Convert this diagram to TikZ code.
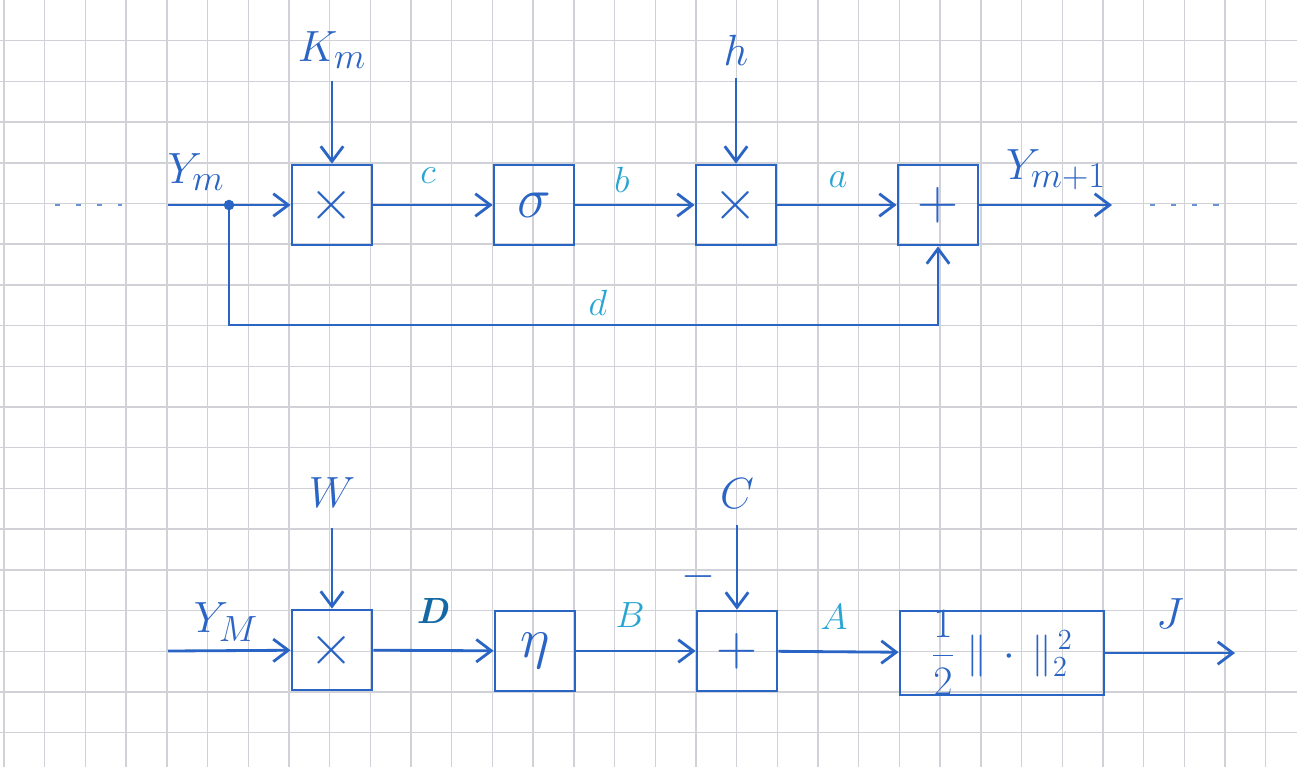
\documentclass[tikz,border=0pt]{standalone}
\usepackage{graphicx}
\usepackage{tikz}
\usetikzlibrary{positioning,arrows.meta}
\definecolor{penblue}{RGB}{42,100,196}
\definecolor{pencyan}{RGB}{40,165,210}
\definecolor{penteal}{RGB}{20,105,165}
\definecolor{gridgray}{RGB}{208,210,215}

\begin{document}
\begin{tikzpicture}[x=0.02cm, y=-0.02cm,
    blk/.style={draw=penblue, line width=1.6pt, minimum width=1.6cm, minimum height=1.6cm,
      inner sep=0pt, text=penblue, font=\Huge},
    sig/.style={draw=penblue, line width=1.6pt, -{Straight Barb[length=3mm,width=4.5mm]}},
    lbl/.style={text=penblue, font=\Huge, inner sep=1pt},
    tag/.style={text=pencyan, font=\huge, inner sep=1pt},
    dots/.style={draw=penblue!70, line width=1.3pt, dash pattern=on 3pt off 9pt}]

  % Paper grid
  \useasboundingbox (0,0) rectangle (1297,767);
  \fill[white] (0,0) rectangle (1297,767);
  \foreach \i in {0,...,31}
    \draw[gridgray, line width=0.8pt] ({4+40.7*\i},0) -- ({4+40.7*\i},767);
  \foreach \j in {1,...,18}
    \draw[gridgray, line width=0.8pt] (0,{40.7*\j}) -- (1297,{40.7*\j});

  % Top row: residual step
  \node[blk] (mul1) at (332,205) {\scalebox{1.3}{$\times$}};
  \node[blk] (act)  at (534,205) {\scalebox{1.3}{$\sigma$}};
  \node[blk] (mul2) at (736,205) {\scalebox{1.3}{$\times$}};
  \node[blk] (add1) at (938,205) {\scalebox{1.3}{$+$}};

  \node[lbl] (km)   at (332,50)  {$K_m$};
  \node[lbl] (hh)   at (736,50)  {$h$};
  \node[lbl] (ym)   at (196,172) {$Y_m$};
  \node[lbl] (ymp)  at (1056,170) {$Y_{m+1}$};
  \node[tag] (tc)   at (428,176) {$c$};
  \node[tag] (tb)   at (622,180) {$b$};
  \node[tag] (ta)   at (838,180) {$a$};
  \node[tag] (td)   at (598,303) {$d$};

  \coordinate (yin)   at (168,205);
  \coordinate (split) at (229,205);
  \coordinate (loop)  at (229,325);
  \coordinate (yout)  at (1112,205);

  \draw[dots] (55,205) -- (122,205);
  \draw[dots] (1150,205) -- (1228,205);

  \draw[sig] (yin) -- (mul1);
  \draw[sig] (mul1) -- (act);
  \draw[sig] (act) -- (mul2);
  \draw[sig] (mul2) -- (add1);
  \draw[sig] (add1) -- (yout);
  \draw[sig, shorten <=6pt] (km) -- (mul1);
  \draw[sig, shorten <=6pt] (hh) -- (mul2);
  \draw[sig] (split) -- (loop) -| (add1.south);
  \fill[penblue] (split) circle (3pt);

  % Bottom row: loss
  \node[blk] (mul3) at (332,650) {\scalebox{1.3}{$\times$}};
  \node[blk] (eta)  at (535,651) {\scalebox{1.3}{$\eta$}};
  \node[blk] (add2) at (737,651) {\scalebox{1.3}{$+$}};
  \node[blk, minimum width=4.08cm, minimum height=1.64cm, font=\huge] (loss) at (1002,653)
        {\scalebox{1.15}{$\displaystyle\frac{1}{2}\;\|\,\cdot\,\|_2^{\,2}$}};

  \node[lbl] (ww)   at (332,493) {$W$};
  \node[lbl] (cc)   at (737,494) {$C$};
  \node[lbl] (minus) at (698,577) {$-$};
  \node[lbl] (yM)   at (226,622) {$Y_M$};
  \node[lbl] (jj)   at (1170,614) {$J$};
  \node[tag, text=penteal] (tD) at (433,611) {\textbf{\textit{D}}};
  \node[tag] (tB)   at (630,615) {$B$};
  \node[tag] (tA)   at (834,617) {$A$};

  \coordinate (Yin)  at (168,651);
  \coordinate (jout) at (1235,653);

  \draw[sig] (Yin) -- (mul3);
  \draw[sig] (mul3) -- (eta);
  \draw[sig] (eta) -- (add2);
  \draw[sig] (add2) -- (loss);
  \draw[sig] (loss) -- (jout);
  \draw[sig, shorten <=10pt] (ww) -- (mul3);
  \draw[sig, shorten <=8pt] (cc) -- (add2);

\end{tikzpicture}
\end{document}
